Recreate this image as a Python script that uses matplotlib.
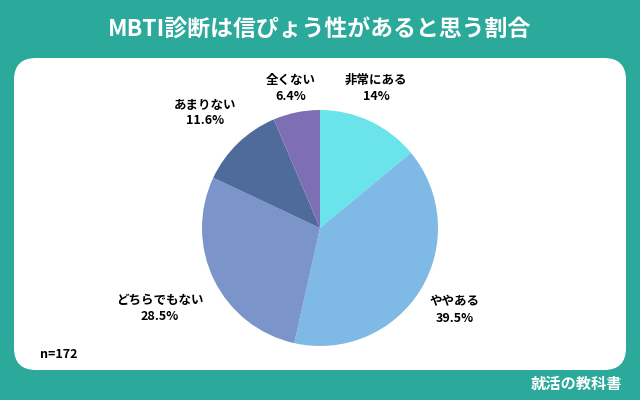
import matplotlib
matplotlib.use("Agg")
import matplotlib.pyplot as plt
from matplotlib.patches import FancyBboxPatch
import numpy as np

plt.rcParams['font.family'] = ['Noto Sans CJK JP', 'DejaVu Sans']

categories = ["非常にある", "ややある", "どちらでもない", "あまりない", "全くない"]
values = [14, 39.5, 28.5, 11.6, 6.4]
pct_labels = ["14%", "39.5%", "28.5%", "11.6%", "6.4%"]
colors = ["#6BE3EA", "#7FB9E6", "#7B94C9", "#4E6B9B", "#7E6FB5"]

W, H = 640, 400
fig = plt.figure(figsize=(6.4, 4.0), dpi=100)
fig.patch.set_facecolor("#2BA99A")
bg = fig.add_axes([0, 0, 1, 1])
bg.set_xlim(0, W); bg.set_ylim(H, 0); bg.axis("off")
bg.add_patch(FancyBboxPatch((14, 58), 612, 312, boxstyle="round,pad=0,rounding_size=22",
                            facecolor="white", edgecolor="none"))
bg.text(320, 30, "MBTI診断は信ぴょう性があると思う割合", color="white", fontsize=16.5,
        fontweight="bold", ha="center", va="center")
bg.text(40, 355, "n=172", fontsize=9, fontweight="bold", ha="left", va="center")
bg.text(622, 384, "就活の教科書", color="white", fontsize=11, fontweight="bold", ha="right", va="center")

cx, cy, r = 320, 228, 118
ax = fig.add_axes([(cx - r) / W, (H - cy - r) / H, 2 * r / W, 2 * r / H])
ax.pie(values, colors=colors, startangle=90, counterclock=False, radius=1,
       wedgeprops=dict(linewidth=0))
ax.set_xlim(-1, 1); ax.set_ylim(-1, 1); ax.set_aspect("auto")

label_pos = [(376, 88), (455, 310), (160, 308), (205, 113), (291, 88)]
for (x, y), c, p in zip(label_pos, categories, pct_labels):
    bg.text(x, y, c + "\n" + p, fontsize=9, fontweight="bold", ha="center", va="center",
            linespacing=1.3)

fig.savefig("out.png", dpi=100, facecolor=fig.get_facecolor())
